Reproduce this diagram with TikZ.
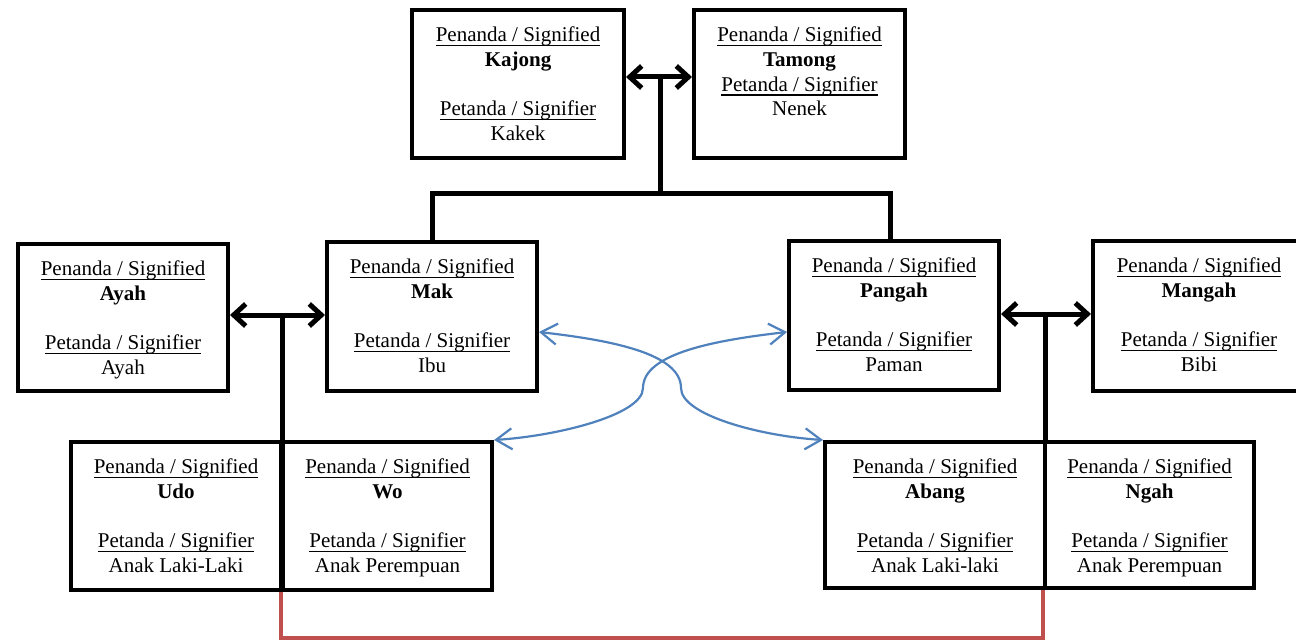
\documentclass[tikz,border=0pt]{standalone}
\usepackage{fontspec}
\setmainfont{Liberation Serif}
\usetikzlibrary{arrows.meta}
\definecolor{linkblue}{RGB}{79,129,189}
\definecolor{linkred}{RGB}{192,80,77}
% underline with a fixed offset below the baseline
\newsavebox{\kinulbox}
\newcommand{\kinul}[1]{\sbox{\kinulbox}{#1}\leavevmode\rlap{\rule[-4.6pt]{\wd\kinulbox}{1.4pt}}\usebox{\kinulbox}}
% standard five-line label: signified term, blank line, signifier term
\newcommand{\kintext}[2]{\kinul{Penanda / Signified}\\\textbf{#1}\\[24.8pt]\kinul{Petanda / Signifier}\\#2}
\begin{document}
\begin{tikzpicture}[x=1pt,y=-1pt,
  box/.style={draw=black,line width=4pt,rectangle,inner sep=0pt,fill=white},
  lbl/.style={anchor=north,align=center,inner sep=0pt,font=\fontsize{21}{24.8}\selectfont},
  tie/.style={draw=black,line width=5pt},
  biarrow/.style={tie,{Straight Barb[length=12pt,width=22pt]}-{Straight Barb[length=12pt,width=22pt]}},
  cross/.style={draw=linkblue,line width=2.2pt,{Straight Barb[length=16pt,width=21pt]}-{Straight Barb[length=16pt,width=21pt]}},
  kin/.style={draw=linkred,line width=4pt}
]
\useasboundingbox (0,0) rectangle (1296,642);

% boxes
\node[box,minimum width=212pt,minimum height=148pt] (kajong) at (518,84) {};
\node[box,minimum width=211pt,minimum height=148pt] (tamong) at (799.5,84) {};
\node[box,minimum width=210pt,minimum height=147pt] (ayah) at (123,317.5) {};
\node[box,minimum width=210pt,minimum height=149pt] (mak) at (432,316.5) {};
\node[box,minimum width=210pt,minimum height=149pt] (pangah) at (894,315.5) {};
\node[box,minimum width=212pt,minimum height=150pt] (mangah) at (1199,316) {};
\node[box,minimum width=210pt,minimum height=148pt] (udo) at (176,516) {};
\node[box,minimum width=209pt,minimum height=148pt] (wo) at (387.5,516) {};
\node[box,minimum width=220pt,minimum height=146pt] (abang) at (935,515) {};
\node[box,minimum width=209pt,minimum height=146pt] (ngah) at (1149.5,515) {};

% labels
\node[lbl] (kajongT) at ([yshift=-18.5pt]kajong.north) {\kintext{Kajong}{Kakek}};
\node[lbl] (tamongT) at ([yshift=-18.5pt]tamong.north) {\kinul{Penanda / Signified}\\\textbf{Tamong}\\\kinul{Petanda / Signifier}\\Nenek};
\node[lbl] (ayahT) at ([yshift=-18.5pt]ayah.north) {\kintext{Ayah}{Ayah}};
\node[lbl] (makT) at ([yshift=-18.5pt]mak.north) {\kintext{Mak}{Ibu}};
\node[lbl] (pangahT) at ([yshift=-18.5pt]pangah.north) {\kintext{Pangah}{Paman}};
\node[lbl] (mangahT) at ([yshift=-18.5pt]mangah.north) {\kintext{Mangah}{Bibi}};
\node[lbl] (udoT) at ([yshift=-18.5pt]udo.north) {\kintext{Udo}{Anak Laki-Laki}};
\node[lbl] (woT) at ([yshift=-18.5pt]wo.north) {\kintext{Wo}{Anak Perempuan}};
\node[lbl] (abangT) at ([yshift=-18.5pt]abang.north) {\kintext{Abang}{Anak Laki-laki}};
\node[lbl] (ngahT) at ([yshift=-18.5pt]ngah.north) {\kintext{Ngah}{Anak Perempuan}};

% junction points of the family lines
\coordinate (tj) at (660,77);
\coordinate (tb) at (660,193);
\coordinate (lj) at (282,315);
\coordinate (rj) at (1045,314);

% grandparents and their children
\draw[biarrow] (kajong.east |- tj) -- (tamong.west |- tj);
\draw[tie] (tj) -- (tb);
\draw[tie,line join=miter] (mak.north) |- (tb) -| ([xshift=-4pt]pangah.north);

% couples and their children
\draw[biarrow] (ayah.east |- lj) -- (mak.west |- lj);
\draw[tie] (lj) -- (lj |- udo.north);
\draw[biarrow] (pangah.east |- rj) -- (mangah.west |- rj);
\draw[tie] (rj) -- (rj |- abang.north);

% crossing links
\coordinate (ma) at (681,388);
\coordinate (mb) at (643,388);
\draw[cross] ([yshift=-15.5pt]mak.east) .. controls +(70,8) and +(0,-35) .. (ma)
  .. controls +(0,27) and +(-63,-4) .. (abang.north west);
\draw[cross] ([yshift=-16.5pt]pangah.west) .. controls +(-70,8) and +(0,-35) .. (mb)
  .. controls +(0,27) and +(63,-4) .. (wo.north east);

% cousin link
\draw[kin,line join=miter] (wo.south west) -- ++(0,46) -| (ngah.south west);
\end{tikzpicture}
\end{document}
